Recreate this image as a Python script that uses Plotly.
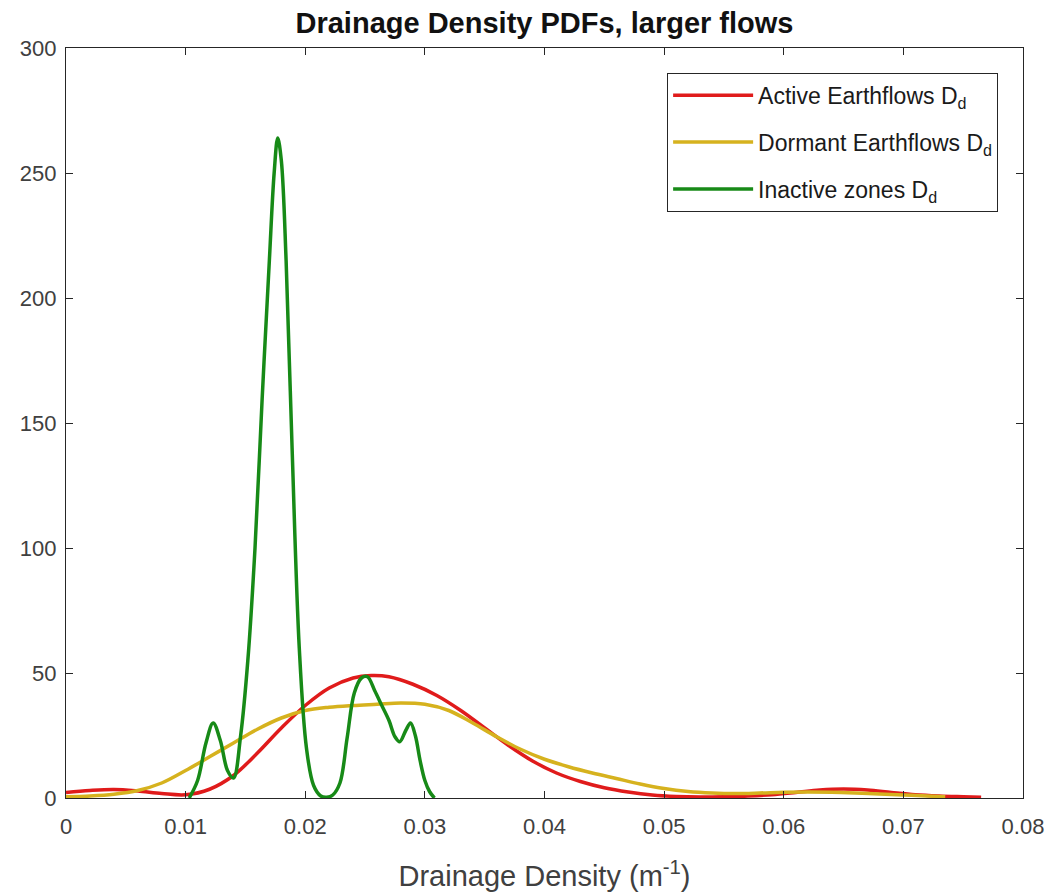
import plotly.graph_objects as go

# Kernel-density estimates of drainage density for the three zone types
active_x = [0, 0.002, 0.004, 0.006, 0.008, 0.010, 0.012, 0.014, 0.016, 0.018, 0.020,
            0.022, 0.024, 0.0255, 0.027, 0.029, 0.031, 0.033, 0.035, 0.037, 0.039,
            0.041, 0.043, 0.045, 0.047, 0.049, 0.051, 0.053, 0.055, 0.057, 0.059,
            0.061, 0.063, 0.065, 0.067, 0.069, 0.071, 0.073, 0.075, 0.0765]
active_y = [2.2, 3.0, 3.4, 2.8, 1.8, 1.3, 3.5, 9, 18, 28, 37,
            44, 48, 49, 48.5, 45.5, 41, 35, 28, 21, 14.8,
            10, 6.6, 4.1, 2.4, 1.2, 0.6, 0.4, 0.5, 0.8, 1.3,
            2.2, 3.2, 3.6, 3.2, 2.2, 1.3, 0.8, 0.5, 0.3]

dormant_x = [0, 0.002, 0.004, 0.006, 0.008, 0.010, 0.012, 0.014, 0.016, 0.018, 0.020,
             0.022, 0.024, 0.026, 0.028, 0.030, 0.032, 0.034, 0.036, 0.038, 0.040,
             0.042, 0.044, 0.046, 0.048, 0.050, 0.052, 0.054, 0.056, 0.058, 0.060,
             0.062, 0.064, 0.066, 0.068, 0.070, 0.072, 0.0735]
dormant_y = [0.5, 0.8, 1.5, 3, 6, 11, 16.5, 22, 27.5, 32, 35,
             36.3, 37, 37.5, 38, 37.5, 35, 30, 24.5, 19.5, 15.5,
             12.5, 10, 7.8, 5.6, 3.8, 2.6, 2, 1.8, 2, 2.3,
             2.4, 2.3, 2, 1.6, 1.2, 0.8, 0.5]

inactive_x = [0.0103, 0.0110, 0.0117, 0.0123, 0.0129, 0.0135, 0.0140, 0.0146, 0.0152,
              0.0158, 0.0164, 0.0170, 0.0174, 0.0177, 0.0180, 0.0184, 0.0189, 0.0195,
              0.0201, 0.0207, 0.0213, 0.0218, 0.0223, 0.0229, 0.0235, 0.0241, 0.0247,
              0.0252, 0.0258, 0.0264, 0.0270, 0.0275, 0.0279, 0.0284, 0.0288, 0.0292,
              0.0296, 0.0300, 0.0304, 0.0308]
inactive_y = [0, 7, 22, 30, 23, 11, 8, 25, 55,
              100, 160, 215, 250, 264, 255, 215, 140, 60,
              20, 5, 0.8, 0.3, 1.2, 6, 24, 42, 48,
              48.5, 43, 37, 31, 24.5, 22.5, 27, 30, 25,
              15, 7, 2.5, 0]

series = [
    ("Active Earthflows D<sub>d</sub>", active_x, active_y, "#e01b1b"),
    ("Dormant Earthflows D<sub>d</sub>", dormant_x, dormant_y, "#d6b21e"),
    ("Inactive zones D<sub>d</sub>", inactive_x, inactive_y, "#178a17"),
]

x_ticks = [0, 0.01, 0.02, 0.03, 0.04, 0.05, 0.06, 0.07, 0.08]
x_ticklabels = ["0", "0.01", "0.02", "0.03", "0.04", "0.05", "0.06", "0.07", "0.08"]
y_ticks = [0, 50, 100, 150, 200, 250, 300]

fig = go.Figure()
for i, (name, xs, ys, color) in enumerate(series):
    fig.add_trace(go.Scatter(
        x=xs, y=ys, mode="lines", name=name, legendgroup=f"g{i}",
        line=dict(color=color, width=3.5, shape="spline", smoothing=1.0),
    ))

family = "Liberation Sans, Arial, sans-serif"
axis_color = "#262626"
tick_font = dict(family=family, size=22, color="#404040")

fig.update_layout(
    width=1056, height=894,
    paper_bgcolor="white", plot_bgcolor="white",
    margin=dict(l=66, r=33, t=48, b=96),
    title=dict(
        text="<b>Drainage Density PDFs, larger flows</b>",
        x=(66 + 1023) / 2 / 1056, xanchor="center", y=1 - 23 / 894, yanchor="middle",
        font=dict(family=family, size=29, color="#111111"),
    ),
    showlegend=True,
    legend=dict(
        x=0.974, xanchor="right", y=0.967, yanchor="top",
        bordercolor=axis_color, borderwidth=1, bgcolor="white",
        font=dict(family=family, size=23, color="#1a1a1a"),
        itemwidth=80, tracegroupgap=14,
    ),
    xaxis=dict(
        range=[0, 0.08], tickvals=x_ticks, ticktext=x_ticklabels,
        ticks="inside", ticklen=7, tickcolor=axis_color, tickwidth=1,
        showline=True, linecolor=axis_color, linewidth=1.3, mirror="ticks",
        showgrid=False, zeroline=False, tickfont=tick_font, ticklabelstandoff=8,
        automargin=False,
        title=dict(text="Drainage Density (m<sup>-1</sup>)",
                   font=dict(family=family, size=29, color="#404040"),
                   standoff=28),
    ),
    yaxis=dict(
        range=[0, 300], tickvals=y_ticks,
        ticks="inside", ticklen=7, tickcolor=axis_color, tickwidth=1,
        showline=True, linecolor=axis_color, linewidth=1.3, mirror="ticks",
        showgrid=False, zeroline=False, tickfont=tick_font, ticklabelstandoff=4,
        automargin=False,
    ),
)

fig.write_html("out.html")
